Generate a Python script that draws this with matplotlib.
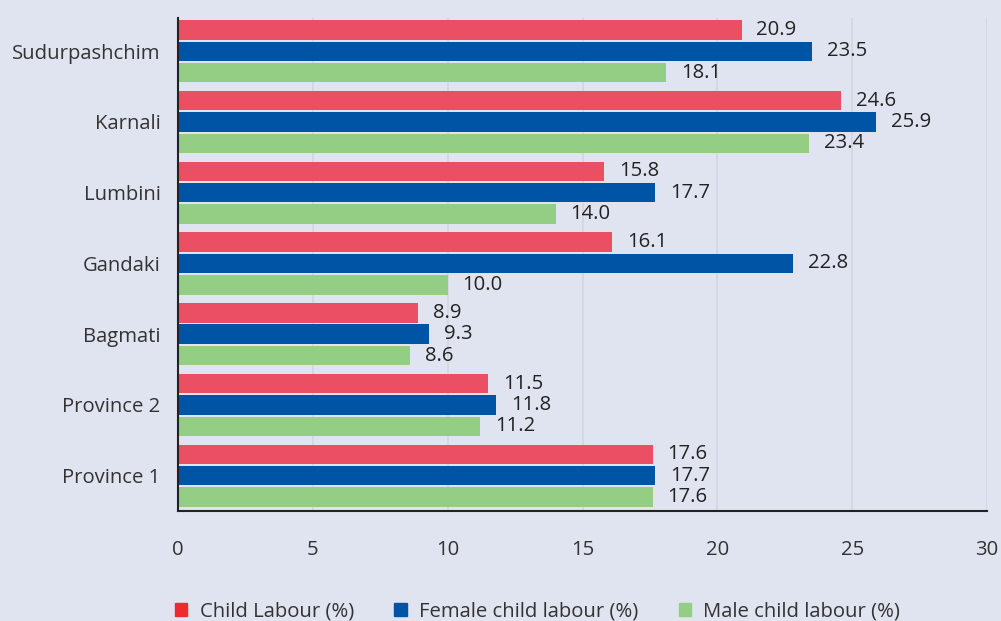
import numpy as np
import matplotlib.pyplot as plt
from matplotlib.patches import Patch

provinces = ['Province 1', 'Province 2', 'Bagmati', 'Gandaki', 'Lumbini', 'Karnali', 'Sudurpashchim']
child = [17.6, 11.5, 8.9, 16.1, 15.8, 24.6, 20.9]
female = [17.7, 11.8, 9.3, 22.8, 17.7, 25.9, 23.5]
male = [17.6, 11.2, 8.6, 10.0, 14.0, 23.4, 18.1]

bg = '#e0e4f0'
c_red = '#ea4f63'
c_blue = '#0054a6'
c_green = '#94cd84'
fs = 14.6

plt.rcParams['font.family'] = ['Open Sans', 'DejaVu Sans']

fig = plt.figure(figsize=[10.01, 6.21], dpi=100, facecolor=bg)
ax = fig.add_axes([178 / 1001, 1 - 511 / 621, (987 - 178) / 1001, (511 - 18) / 621])
ax.set_facecolor(bg)

y = np.arange(len(provinces))
h = 0.275
off = 0.302
series = [(child, c_red, off), (female, c_blue, 0), (male, c_green, -off)]
for vals, col, o in series:
    bars = ax.barh(y + o, vals, height=h, color=col, zorder=3)
    for b, v in zip(bars, vals):
        ax.text(v + 0.55, b.get_y() + b.get_height() / 2, f'{v:.1f}',
                va='center', ha='left', fontsize=fs, color='#222222', zorder=4)

ax.set_xlim(0, 30)
ax.set_ylim(-0.5, 6.47)
ax.set_xticks(range(0, 31, 5))
ax.set_yticks(y)
ax.set_yticklabels(provinces)
ax.tick_params(axis='x', length=0, pad=21, labelsize=fs, labelcolor='#333333')
ax.tick_params(axis='y', length=0, pad=12.5, labelsize=fs, labelcolor='#333333')
ax.grid(axis='x', color='#d3d6df', linewidth=1.2, zorder=0)
for s in ['top', 'right']:
    ax.spines[s].set_visible(False)
for s in ['left', 'bottom']:
    ax.spines[s].set_color('#222222')
    ax.spines[s].set_linewidth(1.5)
    ax.spines[s].set_zorder(5)

handles = [Patch(color='#ed2a2f', label='Child Labour (%)'),
           Patch(color=c_blue, label='Female child labour (%)'),
           Patch(color=c_green, label='Male child labour (%)')]
leg = fig.legend(handles=handles, loc='lower center', bbox_to_anchor=(0.537, -0.03), ncol=3,
                 frameon=False, fontsize=fs, handlelength=0.6, handleheight=0.6,
                 handletextpad=0.6, columnspacing=2.0)
for t in leg.get_texts():
    t.set_color('#333333')

fig.savefig('out.png', dpi=100, facecolor=bg)
